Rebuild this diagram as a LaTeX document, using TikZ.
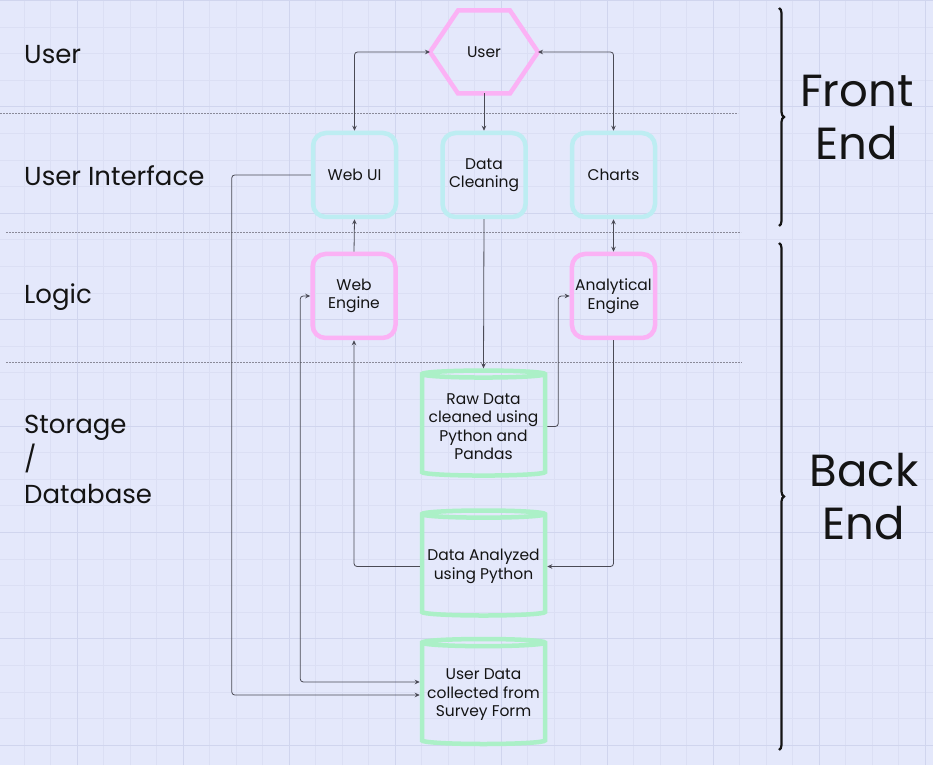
\documentclass[tikz,border=0pt]{standalone}
\usepackage{fontspec}
\setmainfont{Poppins}
\usetikzlibrary{arrows.meta,shapes.geometric,decorations.pathreplacing}
\definecolor{bgc}{HTML}{E4E8FB}
\definecolor{minorc}{HTML}{DBDFF4}
\definecolor{majorc}{HTML}{D0D5EE}
\definecolor{logicpink}{HTML}{FBB2F5}
\definecolor{uicyan}{HTML}{BDEDF2}
\definecolor{dbgreen}{HTML}{ABF0C7}
\definecolor{linec}{HTML}{4A4A55}
\definecolor{sepc}{HTML}{8A8A99}
\definecolor{inkc}{HTML}{141414}
\newcommand{\boxfont}{\fontsize{15.5}{18.5}\selectfont}
\newcommand{\layerfont}{\fontsize{26}{35}\selectfont}
\newcommand{\sidefont}{\fontsize{45}{53}\selectfont}

\begin{document}
\begin{tikzpicture}[x=1pt,y=1pt,
    uibox/.style={draw=uicyan,rounded corners=13pt,line width=4.5pt,minimum width=83pt,minimum height=84pt,align=center,font=\boxfont,text=inkc},
    logicbox/.style={uibox,draw=logicpink},
    dbcyl/.style={draw=dbgreen,cylinder,shape border rotate=90,aspect=0.06,line width=4.5pt,minimum width=123pt,minimum height=105pt,align=center,font=\boxfont,text=inkc},
    layer/.style={anchor=west,inner sep=0pt,font=\layerfont,text=inkc,align=left},
    conn/.style={draw=linec,line width=0.8pt,rounded corners=3pt,-{Stealth[length=5pt,width=4.5pt]}},
    conntwo/.style={conn,{Stealth[length=5pt,width=4.5pt]}-{Stealth[length=5pt,width=4.5pt]}},
    sep/.style={draw=sepc,line width=0.6pt,dash pattern=on 2pt off 1pt},
    endbrace/.style={draw=inkc,line width=2.2pt,decorate,decoration={brace,amplitude=5pt}}]
    % Background/grid
    \useasboundingbox (0,0) rectangle (933,765);
    \fill[bgc] (0,0) rectangle (933,765);
    \foreach \i in {-2,...,32} \draw[minorc,line width=0.8pt] ({77+26.5*\i},0) -- ({77+26.5*\i},765);
    \foreach \j in {0,...,29} \draw[minorc,line width=0.8pt] (0,{764.5-26.6*\j}) -- (933,{764.5-26.6*\j});
    \foreach \i in {-1,...,8} \draw[majorc,line width=1pt] ({77+106*\i},0) -- ({77+106*\i},765);
    \foreach \j in {0,...,7} \draw[majorc,line width=1pt] (0,{764.5-106.4*\j}) -- (933,{764.5-106.4*\j});
    % Layer separators
    \draw[sep] (0,652) -- (738,652);
    \draw[sep] (6,533) -- (741,533);
    \draw[sep] (6,403) -- (742,403);
    % Layer names
    \node[layer] (lyuser) at (24,710) {User};
    \node[layer] (lyui) at (24,589) {User Interface};
    \node[layer] (lylogic) at (24,468) {Logic};
    \node[layer] (lystore) at (24,306) {Storage\\/\\Database};
    % User
    \node[minimum width=108pt,minimum height=83pt,inner sep=0pt,outer sep=0pt,font=\boxfont,text=inkc] (user) at (484,713) {User};
    \draw[logicpink,line width=4.5pt] (user.west) -- ([xshift=28pt]user.north west) -- ([xshift=-28pt]user.north east) -- (user.east) -- ([xshift=-28pt]user.south east) -- ([xshift=28pt]user.south west) -- cycle;
    % User interface
    \node[uibox] (webui) at (354.5,590) {Web UI};
    \node[uibox] (clean) at (484,590) {Data\\Cleaning};
    \node[uibox] (charts) at (613.5,590) {Charts};
    % Logic
    \node[logicbox] (webeng) at (354,469) {Web\\Engine};
    \node[logicbox] (anaeng) at (613.5,469) {Analytical\\Engine};
    % Storage
    \node[dbcyl] (raw) at (483.5,338.5) {Raw Data\\cleaned using\\Python and\\Pandas};
    \node[dbcyl] (analyzed) at (483.5,198.5) {Data Analyzed\\using Python};
    \node[dbcyl] (userdata) at (483.5,70) {User Data\\collected from\\Survey Form};
    % Connectors
    \draw[conntwo] (user.west) -| (webui.north);
    \draw[conntwo] (user.east) -| (charts.north);
    \draw[conn] (user.south) -- (clean.north);
    \draw[conn] (webui.west) -- ++(-79,0) |- (userdata.west);
    \draw[conntwo] (webeng.west) -- ++(-10,0) |- ([yshift=13pt]userdata.west);
    \draw[conn] (webeng.north) -- (webui.south);
    \draw[conntwo] (charts.south) -- (anaeng.north);
    \draw[conn] (clean.south) -- (raw.north);
    \draw[conn] (raw.east) -- ++(11,0) |- (anaeng.west);
    \draw[conn] (analyzed.west) -| (webeng.south);
    \draw[conn] (anaeng.south) |- (analyzed.east);
    % Front/back end
    \draw[endbrace] (779,757) -- (779,539);
    \draw[endbrace] (779,522) -- (779,15);
    \node[font=\sidefont,text=inkc,align=center] (front) at (857,647) {Front\\End};
    \node[font=\sidefont,text=inkc,align=center] (back) at (864,268) {Back\\End};
\end{tikzpicture}
\end{document}
